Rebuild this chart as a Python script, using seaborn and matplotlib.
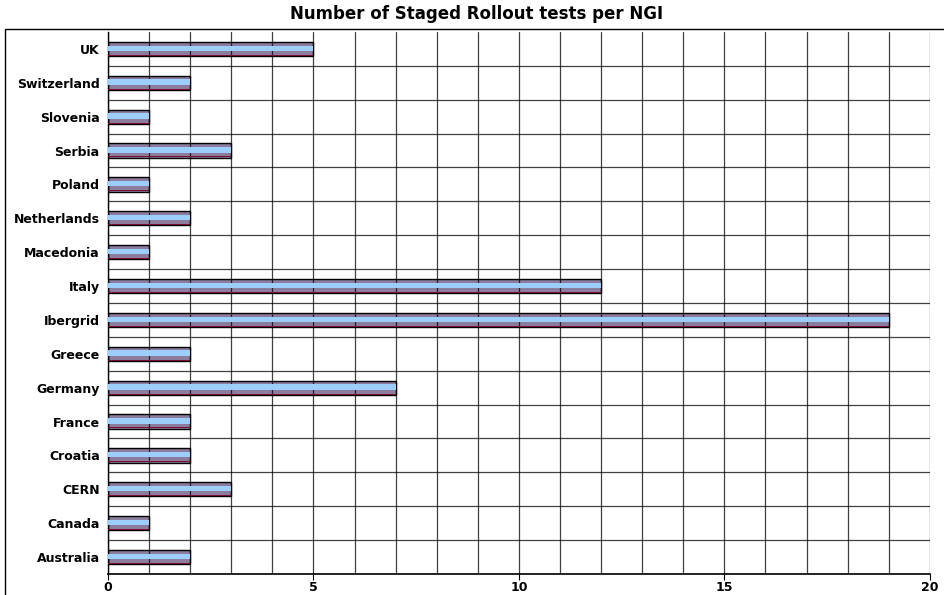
import numpy as np
import pandas as pd
import matplotlib
matplotlib.use('Agg')
import matplotlib.pyplot as plt
import seaborn as sns

# data, top to bottom as in the chart
ngis = ['UK', 'Switzerland', 'Slovenia', 'Serbia', 'Poland', 'Netherlands',
        'Macedonia', 'Italy', 'Ibergrid', 'Greece', 'Germany', 'France',
        'Croatia', 'CERN', 'Canada', 'Australia']
tests = [5, 2, 1, 3, 1, 2, 1, 12, 19, 2, 7, 2, 2, 3, 1, 2]
xticks = [0, 5, 10, 15, 20]

df = pd.DataFrame({'NGI': ngis, 'Tests': tests})

sns.set_style('white')
plt.rcParams['font.family'] = ['DejaVu Sans']
plt.rcParams['text.color'] = 'black'
plt.rcParams['xtick.color'] = 'black'
plt.rcParams['ytick.color'] = 'black'

fig = plt.figure(figsize=(9.44, 5.95), dpi=100)
ax = fig.add_axes([0.1144, 0.0353, 0.8706, 0.911])

# base bar (purple-ish) with dark edge
sns.barplot(data=df, x='Tests', y='NGI', orient='h', color='#8c7c9e',
            saturation=1, width=0.42, edgecolor='black', linewidth=1.0, ax=ax)
# light blue highlight stripe
ax.barh(np.arange(len(ngis)) - 0.02, df['Tests'], height=0.16,
        color='#9ccdfb', linewidth=0, zorder=3)
# dark red bottom edge
ax.barh(np.arange(len(ngis)) + 0.19, df['Tests'], height=0.03,
        color='#7a1030', linewidth=0, zorder=3)

ax.set_xlim(0, 20)
ax.set_ylim(len(ngis) - 0.5, -0.5)
ax.set_xticks(xticks)
ax.set_xticks(np.arange(0, 21, 1), minor=True)
ax.set_yticks(np.arange(len(ngis)) + 0.5, minor=True)
ax.grid(which='minor', color='black', linewidth=0.9, alpha=0.75, zorder=4)
ax.grid(which='major', axis='x', color='black', linewidth=0.9, alpha=0.75, zorder=4)
ax.set_axisbelow(False)

ax.set_xlabel('')
ax.set_ylabel('')
fig.suptitle('Number of Staged Rollout tests per NGI', x=0.505, y=0.976,
             va='center', fontsize=12, fontweight='bold')
ax.tick_params(axis='x', which='major', length=4, direction='out',
               bottom=True, labelsize=9, pad=1)
ax.tick_params(axis='x', which='minor', length=0)
ax.tick_params(axis='y', which='both', length=0, labelsize=9, pad=6)
ax.tick_params(axis='y', which='minor', left=False)
for lab in ax.get_xticklabels() + ax.get_yticklabels():
    lab.set_fontweight('bold')

for side in ['top', 'right']:
    ax.spines[side].set_visible(False)
ax.spines['left'].set_color('black')
ax.spines['bottom'].set_color('black')
ax.spines['left'].set_linewidth(1)
ax.spines['bottom'].set_linewidth(1.2)

# figure frame
fig.patches.append(plt.Rectangle((0.005, -0.01), 1.1, 0.961,
                                 transform=fig.transFigure, fill=False,
                                 edgecolor='black', linewidth=1))

fig.savefig('out.png', dpi=100)
